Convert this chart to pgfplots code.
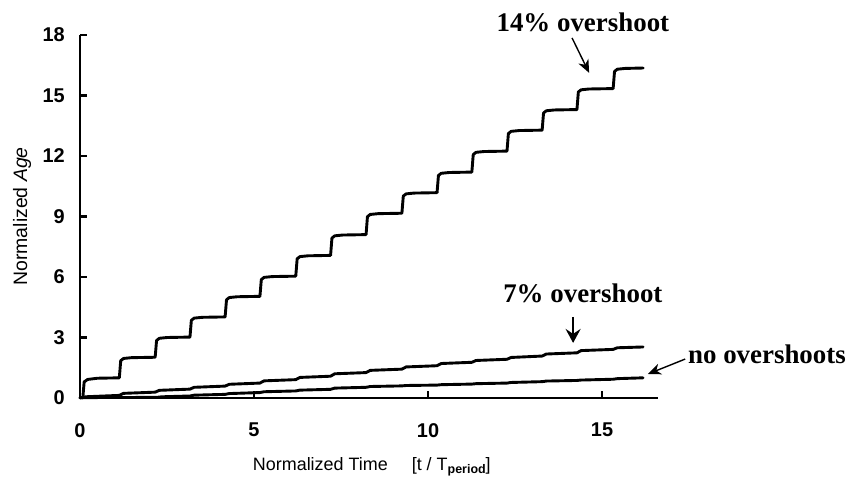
\documentclass[border=0pt]{standalone}
\usepackage{pgfplots}
\pgfplotsset{compat=1.18}
\usepackage{fontspec}
\setmainfont{Liberation Sans}
\newfontfamily\serifb{Liberation Serif}
\usetikzlibrary{arrows.meta}
\begin{document}
\begin{tikzpicture}
\path[use as bounding box] (0,0) rectangle (848bp,477bp);
\begin{axis}[
  at={(80bp,79bp)}, anchor=south west,
  x=34.8bp, y=20.17bp,
  xmin=0, xmax=16.6, ymin=0, ymax=18,
  axis lines=left,
  axis line style={line width=2.9bp, -},
  clip=false,
  xtick={0,5,10,15}, ytick={0,3,6,9,12,15,18},
  tick align=inside,
  major tick length=7bp,
  tick style={line width=2.2bp, black},
  /pgf/number format/assume math mode=true,
  ticklabel style={font=\fontsize{20}{20}\selectfont\bfseries},
  yticklabel style={anchor=east, inner sep=0pt, xshift=-15bp},
  xticklabel style={anchor=north, inner sep=0pt, yshift=-25bp},
  xlabel={Normalized Time\hspace{24bp}[t / T\raisebox{-0.35ex}{\fontsize{12.5}{12.5}\selectfont\bfseries period}]},
  ylabel={Normalized \textit{Age}},
  xlabel style={font=\fontsize{18}{18}\selectfont, at={(axis description cs:0.5,0)}, anchor=base, yshift=-72bp, xshift=3bp, inner sep=0pt},
  ylabel style={font=\fontsize{19.5}{19.5}\selectfont, at={(axis description cs:0,0.5)}, anchor=base, yshift=53bp, inner sep=0pt},
]
% 14% overshoot
\addplot[black, line width=2.9bp, line join=round, line cap=round] coordinates {
(0.08,0) (0.12,0.8) (0.22,0.92) (0.5,0.98) (1.13,1.0)
(1.17,1.85) (1.25,1.96) (1.48,2.0) (2.16,2.02)
(2.20,2.85) (2.28,2.96) (2.51,3.0) (3.16,3.02)
(3.20,3.85) (3.28,3.96) (3.51,4.0) (4.17,4.02)
(4.21,4.87) (4.29,4.98) (4.52,5.02) (5.17,5.04)
(5.21,5.87) (5.29,5.98) (5.52,6.02) (6.2,6.04)
(6.24,6.90) (6.32,7.01) (6.55,7.05) (7.2,7.07)
(7.24,7.93) (7.32,8.04) (7.55,8.08) (8.22,8.10)
(8.26,8.99) (8.34,9.10) (8.57,9.14) (9.25,9.16)
(9.29,10.01) (9.37,10.12) (9.60,10.16) (10.26,10.18)
(10.30,11.03) (10.38,11.14) (10.61,11.18) (11.26,11.20)
(11.30,12.07) (11.38,12.18) (11.61,12.22) (12.27,12.24)
(12.31,13.11) (12.39,13.22) (12.62,13.26) (13.28,13.28)
(13.32,14.13) (13.40,14.24) (13.63,14.28) (14.28,14.30)
(14.32,15.17) (14.40,15.28) (14.63,15.32) (15.32,15.34)
(15.36,16.19) (15.44,16.30) (15.67,16.34) (16.18,16.36)
};
% 7% overshoot
\addplot[black, line width=2.9bp, line join=round, line cap=round] coordinates {
(0,0) (0.15,0.06) (1.13,0.13) (1.25,0.23) (2.16,0.29) (2.28,0.38)
(3.16,0.44) (3.28,0.53) (4.17,0.59) (4.29,0.68) (5.17,0.74) (5.29,0.85)
(6.2,0.91) (6.32,1.02) (7.2,1.08) (7.32,1.2) (8.22,1.26) (8.34,1.37)
(9.25,1.43) (9.37,1.54) (10.26,1.6) (10.38,1.71) (11.26,1.77) (11.38,1.86)
(12.27,1.92) (12.39,2.01) (13.28,2.08) (13.40,2.18) (14.28,2.24) (14.40,2.35)
(15.32,2.41) (15.44,2.49) (16.18,2.53)
};
% no overshoots
\addplot[black, line width=2.9bp, line join=round, line cap=round] coordinates {
(0,0.02) (2.2,0.03) (2.35,0.06) (3.16,0.1) (3.28,0.14) (4.17,0.18) (4.29,0.22)
(5.17,0.27) (5.29,0.31) (6.2,0.35) (6.32,0.39) (7.2,0.43) (7.32,0.49)
(8.22,0.53) (8.34,0.57) (9.25,0.6) (9.37,0.62) (10.26,0.64) (10.38,0.66)
(11.26,0.69) (11.38,0.71) (12.27,0.74) (12.39,0.77) (13.28,0.81) (13.40,0.84)
(14.28,0.87) (14.40,0.89) (15.32,0.93) (15.44,0.96) (16.18,1.0)
};
% annotations
\node[anchor=base, inner sep=0pt, font=\serifb\bfseries\fontsize{27}{27}\selectfont] at (axis cs:14.45,18.15) {14\% overshoot};
\draw[line width=1.4bp, -{Stealth[length=13bp, width=11bp, inset=4bp]}] (axis cs:14.14,17.85) -- (axis cs:14.63,16.12);
\node[anchor=base, inner sep=0pt, font=\serifb\bfseries\fontsize{27}{27}\selectfont] at (axis cs:14.45,4.71) {7\% overshoot};
\draw[line width=2.2bp, -{Stealth[length=14bp, width=15bp, inset=5bp]}] (axis cs:14.17,4.02) -- (axis cs:14.17,2.73);
\node[anchor=base, inner sep=0pt, font=\serifb\bfseries\fontsize{27}{27}\selectfont] at (axis cs:19.74,1.735) {no overshoots};
\draw[line width=1.4bp, -{Stealth[length=13bp, width=11bp, inset=4bp]}] (axis cs:17.39,1.93) -- (axis cs:16.32,1.19);
\end{axis}
\end{tikzpicture}
\end{document}
